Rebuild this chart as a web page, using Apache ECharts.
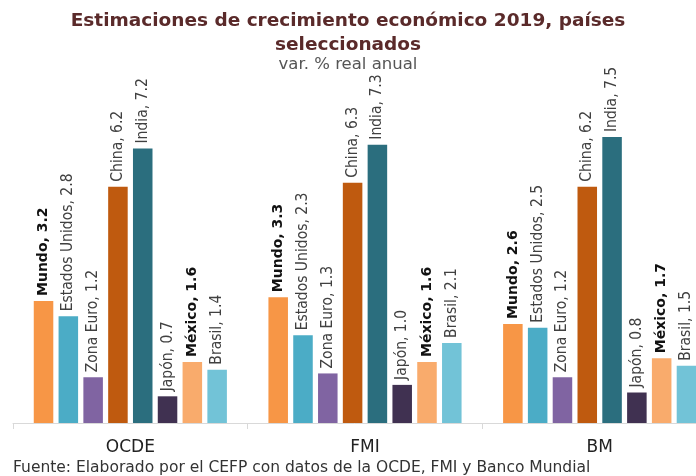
<!DOCTYPE html>
<html><head><meta charset="utf-8">
<script src="https://cdn.jsdelivr.net/npm/echarts@6/dist/echarts.min.js"></script>
<style>html,body{margin:0;padding:0;background:#fff}#c{width:696px;height:476px}</style>
</head><body><div id="c"></div>
<script>
const categories = ['OCDE', 'FMI', 'BM'];
const seriesNames = ['Mundo', 'Estados Unidos', 'Zona Euro', 'China', 'India', 'Japón', 'México', 'Brasil'];
const mundo = [3.2, 3.3, 2.6];
const estadosUnidos = [2.8, 2.3, 2.5];
const zonaEuro = [1.2, 1.3, 1.2];
const china = [6.2, 6.3, 6.2];
const india = [7.2, 7.3, 7.5];
const japon = [0.7, 1.0, 0.8];
const mexico = [1.6, 1.6, 1.7];
const brasil = [1.4, 2.1, 1.5];
const values = [mundo, estadosUnidos, zonaEuro, china, india, japon, mexico, brasil];
const colors = ['#F79646', '#4BACC6', '#8064A2', '#BF5A0F', '#2B6E7E', '#403151', '#F9AB6C', '#72C3D7'];
const boldSeries = ['Mundo', 'México'];

const chart = echarts.init(document.getElementById('c'));
const series = seriesNames.map((name, i) => {
  const bold = boldSeries.includes(name);
  return {
    name, type: 'bar', data: values[i],
    itemStyle: { color: colors[i] },
    barGap: '27%', barCategoryGap: '17.7%',
    label: {
      show: true, position: 'top', rotate: 90, align: 'left', verticalAlign: 'middle', distance: 5,
      formatter: p => p.seriesName + ', ' + p.value.toFixed(1),
      fontFamily: bold ? 'DejaVu Sans' : 'DejaVu Sans Condensed',
      fontWeight: bold ? 'bold' : 'normal',
      fontSize: bold ? 14 : 15.5,
      color: bold ? '#111' : '#404040'
    }
  };
});
chart.setOption({
  animation: false,
  title: [
    { text: 'Estimaciones de crecimiento económico 2019, países\nseleccionados', left: 'center', top: 4,
      textStyle: { fontFamily: 'DejaVu Sans', fontWeight: 'bold', fontSize: 18.5, color: '#5A2A2A', lineHeight: 24 } },
    { text: 'var. % real anual', left: 'center', top: 51,
      textStyle: { fontFamily: 'DejaVu Sans', fontWeight: 'normal', fontSize: 16.5, color: '#555' } },
    { text: 'Fuente: Elaborado por el CEFP con datos de la OCDE, FMI y Banco Mundial', left: 8, top: 455,
      textStyle: { fontFamily: 'DejaVu Sans', fontWeight: 'normal', fontSize: 15.5, color: '#333' } }
  ],
  grid: { left: 13, width: 704, top: 118, height: 305, containLabel: false, outerBoundsMode: 'none' },
  xAxis: {
    type: 'category', data: categories,
    axisLine: { lineStyle: { color: '#D9D9D9' } },
    axisTick: { show: true, length: 6, lineStyle: { color: '#D9D9D9' } },
    axisLabel: { fontFamily: 'DejaVu Sans', fontSize: 17, color: '#222', margin: 16 }
  },
  yAxis: { type: 'value', min: 0, max: 8, show: false, splitLine: { show: false } },
  series
});
</script></body></html>
